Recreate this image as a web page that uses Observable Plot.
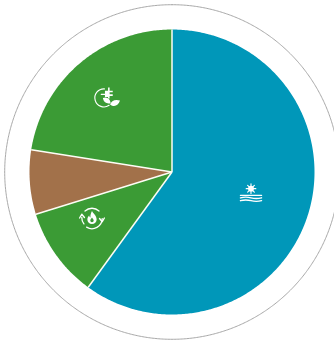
<!DOCTYPE html>
<html>
<head>
<meta charset="utf-8">
<script src="https://cdn.jsdelivr.net/npm/d3@7"></script>
<script src="https://cdn.jsdelivr.net/npm/@observablehq/plot@0.6"></script>
<style>
html,body{margin:0;padding:0;background:#fff;overflow:hidden}
svg{display:block}
</style>
</head>
<body>
<div id="chart"></div>
<script>
// Slices, clockwise from 12 o'clock
const categories = ["Solar / water", "Renewable heat", "Other", "Green electricity"];
const shares = [60, 10.2, 7.3, 22.5];
const colors = ["#0097b9", "#3b9b35", "#a2714a", "#3b9b35"];

// Geometry in the plot's data units (1 unit = 1 px)
const R = 142.5, ringR = 167.3;

const pie = d3.pie().sort(null).value(d => d)(shares);
const slicePoints = [];
pie.forEach((a, i) => {
  const n = Math.ceil((a.endAngle - a.startAngle) * R / 1.5);
  slicePoints.push({cat: categories[i], x: 0, y: 0});
  for (let k = 0; k <= n; k++) {
    const t = a.startAngle + (a.endAngle - a.startAngle) * k / n;
    slicePoints.push({cat: categories[i], x: R * Math.sin(t), y: R * Math.cos(t)});
  }
  slicePoints.push({cat: categories[i], x: 0, y: 0});
});
const ring = d3.range(0, 721).map(k => ({
  x: ringR * Math.sin(k * Math.PI / 360),
  y: ringR * Math.cos(k * Math.PI / 360)
}));

const uri = s => "data:image/svg+xml," + encodeURIComponent(
  `<svg xmlns="http://www.w3.org/2000/svg" viewBox="0 0 26 26" fill="none" stroke="#fff" stroke-linecap="round" stroke-linejoin="round">${s}</svg>`);

const sunIcon = uri(
  `<circle cx="13" cy="8.500" r="3" fill="#fff" stroke="none"/>
   <path stroke-width="1.200" d="M13 3.500V13.500M8 8.500H18M9.500 5L16.500 12M16.500 5L9.500 12"/>
   <path stroke-width="1.300" d="M2 15.500H24"/>
   <path stroke-width="1.400" d="M2 18q5.500-1.500 11 0t11 0M2 21q5.500-1.500 11 0t11 0"/>`);
const plugIcon = uri(
  `<path stroke-width="1.100" d="M11 4.200A8.700 8.700 0 1 0 15.500 20"/>
   <path stroke-width="1.300" d="M8 9.500H12"/>
   <path fill="#fff" stroke="none" d="M11.500 6h3V3h1.500v3h3v1.500h-3v2h3V11h-3v2.500h-1.500V12h-3z"/>
   <path fill="#fff" stroke="none" d="M9.500 13c4-1.500 7 .5 7.500 5-4 1-7-1-7.500-5zM16.500 19.500c1-3.500 4.500-5.500 9.500-4-1.500 4.500-5 7-9.500 4z"/>`);
const fireIcon = uri(
  `<path stroke-width="1.200" d="M6.500 6.500A9.500 9.500 0 0 1 19.500 6.500M22.500 13.500A9.500 9.500 0 0 1 8 21.500M3.500 12.500A9.500 9.500 0 0 0 5.500 18.500"/>
   <path stroke-width="1.300" d="M1.500 13l2-3.500 2.500 3M24.500 13l-2 3.500-2.500-3"/>
   <path fill="#fff" stroke="none" d="M13 6.500c.7 2 4.300 4 4.300 7.800a4.300 4.300 0 0 1-8.600 0c0-1.800.8-2.800 1.700-3.700.2 1.100.6 1.700 1.200 1.900C11.300 10.500 12 8.500 13 6.500z"/>
   <path fill="#3b9b35" stroke="none" d="M13 12.500c.5 1 1.600 1.600 1.600 2.800a1.600 1.600 0 0 1-3.200 0c0-1 1-1.800 1.600-2.800z"/>`);

const icons = [
  {x: 79,  y: -21, src: sunIcon,  w: 25},
  {x: -65.500, y: 74,  src: plugIcon, w: 27},
  {x: -80, y: -46,   src: fireIcon, w: 28}
];

const plot = Plot.plot({
  width: 334,
  height: 342,
  margin: 0,
  x: {domain: [-171.5, 162.5], axis: null},
  y: {domain: [-170.5, 171.5], axis: null},
  marks: [
    Plot.line(ring, {x: "x", y: "y", stroke: "#a8a8a8", strokeWidth: 1, curve: "linear"}),
    Plot.line(slicePoints, {
      x: "x", y: "y", z: "cat", curve: "linear",
      fill: d => colors[categories.indexOf(d.cat)],
      stroke: "none"
    }),
    Plot.link(pie, {
      x1: () => 0, y1: () => 0,
      x2: a => R * Math.sin(a.startAngle),
      y2: a => R * Math.cos(a.startAngle),
      stroke: "#fdfdf5", strokeWidth: 1.5
    }),
    Plot.image(icons, {x: "x", y: "y", src: "src", width: "w", height: "w"})
  ]
});
document.getElementById("chart").appendChild(plot);
</script>
</body>
</html>
